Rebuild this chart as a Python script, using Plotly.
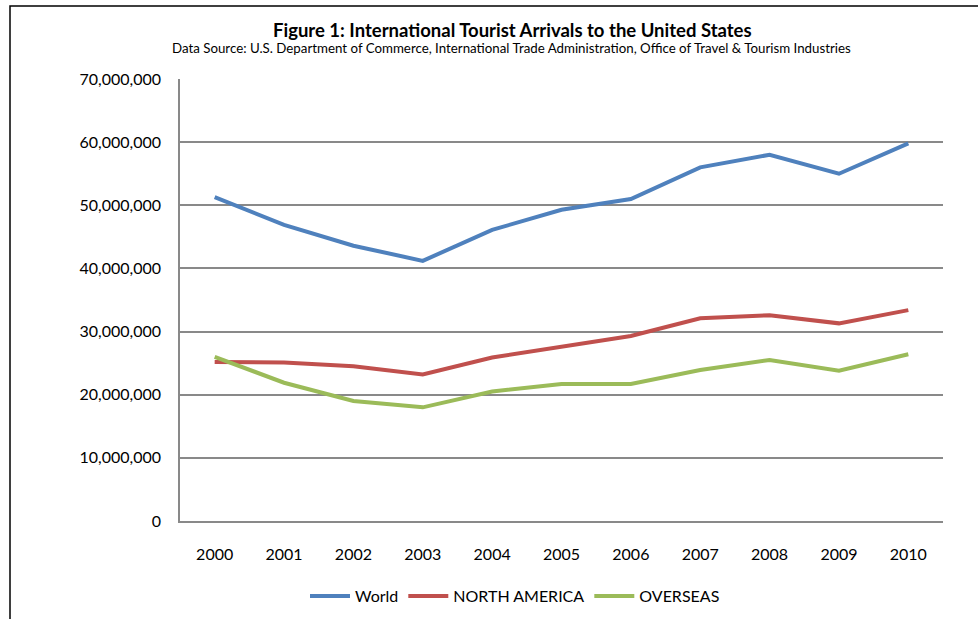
import plotly.graph_objects as go

years = ["2000", "2001", "2002", "2003", "2004", "2005", "2006", "2007", "2008", "2009", "2010"]
world = [51.3e6, 46.9e6, 43.6e6, 41.2e6, 46.1e6, 49.3e6, 51.0e6, 56.0e6, 58.0e6, 55.0e6, 59.8e6]
north_america = [25.2e6, 25.1e6, 24.5e6, 23.2e6, 25.9e6, 27.6e6, 29.3e6, 32.1e6, 32.6e6, 31.3e6, 33.4e6]
overseas = [26.0e6, 21.9e6, 19.0e6, 18.0e6, 20.5e6, 21.7e6, 21.7e6, 23.9e6, 25.5e6, 23.8e6, 26.4e6]
y_ticks = [0, 10e6, 20e6, 30e6, 40e6, 50e6, 60e6, 70e6]
y_tick_text = ["0", "10,000,000", "20,000,000", "30,000,000", "40,000,000", "50,000,000", "60,000,000", "70,000,000"]

FONT = "Lato, 'Open Sans', sans-serif"
W, H = 978, 619
L, R, T, B = 180, 943, 79, 521

def px(x):
    return (x - L) / (R - L)

def py(y):
    return (B - y) / (B - T)

fig = go.Figure()
for name, vals, col in [("World", world, "#4F81BD"),
                        ("NORTH AMERICA", north_america, "#C0504D"),
                        ("OVERSEAS", overseas, "#9BBB59")]:
    fig.add_trace(go.Scatter(x=years, y=vals, name=name, mode="lines",
                             line=dict(color=col, width=4)))

fig.update_layout(
    width=W, height=H,
    margin=dict(l=L, r=W - R, t=T, b=H - B, autoexpand=False),
    paper_bgcolor="white", plot_bgcolor="white",
    font=dict(family=FONT, size=16, color="black"),
    showlegend=True,
    legend=dict(orientation="h", x=px(515), y=py(596), xanchor="center", yanchor="middle",
                font=dict(size=16), itemwidth=40, tracegroupgap=0),
    xaxis=dict(type="category", range=[-0.5, 10.5], showgrid=False, showline=True,
               linecolor="#898989", linewidth=1.5, ticks="", ticklabelstandoff=18,
               tickfont=dict(size=16)),
    yaxis=dict(range=[0, 70e6], tickvals=y_ticks, ticktext=y_tick_text, showgrid=True,
               gridcolor="#898989", gridwidth=1.5, showline=True, linecolor="#898989",
               linewidth=1.5, ticks="", ticklabelstandoff=14, zeroline=False,
               tickfont=dict(size=16)),
    annotations=[
        dict(text="<b>Figure 1: International Tourist Arrivals to the United States</b>",
             xref="paper", yref="paper", x=px(512), y=py(30), xanchor="center", yanchor="middle",
             showarrow=False, font=dict(size=18.5, family=FONT)),
        dict(text="Data Source: U.S. Department of Commerce, International Trade Administration, Office of Travel &amp; Tourism Industries",
             xref="paper", yref="paper", x=px(511), y=py(48), xanchor="center", yanchor="middle",
             showarrow=False, font=dict(size=13.3, family=FONT)),
    ],
    shapes=[
        dict(type="rect", xref="paper", yref="paper", x0=px(10), x1=px(1010), y0=py(640), y1=py(6),
             line=dict(color="black", width=1.5), fillcolor="rgba(0,0,0,0)", layer="above"),
    ],
)

fig.write_html("out.html")
